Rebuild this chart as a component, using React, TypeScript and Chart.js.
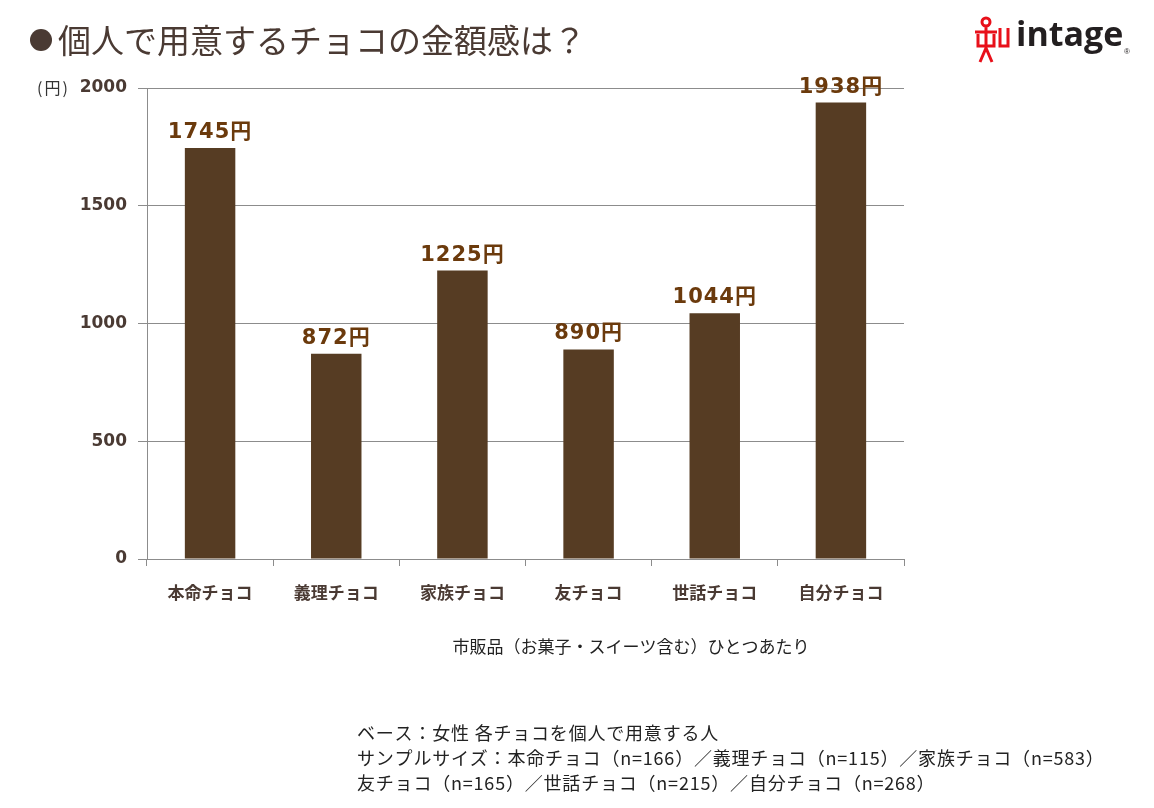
import React, { useEffect, useRef } from "react";
import { Chart, registerables } from "chart.js";

Chart.register(...registerables);

const categories = ["本命チョコ", "義理チョコ", "家族チョコ", "友チョコ", "世話チョコ", "自分チョコ"];
const amounts = [1745, 872, 1225, 890, 1044, 1938];
const yTicks = [0, 500, 1000, 1500, 2000];
const titleText = "個人で用意するチョコの金額感は？";
const unitText = "(円)";
const xTitleText = "市販品（お菓子・スイーツ含む）ひとつあたり";
const noteLines = [
  "ベース：女性 各チョコを個人で用意する人",
  "サンプルサイズ：本命チョコ（n=166）／義理チョコ（n=115）／家族チョコ（n=583）",
  "友チョコ（n=165）／世話チョコ（n=215）／自分チョコ（n=268）",
];

const FONT = "'Noto Sans CJK JP', 'Noto Sans', sans-serif";
const NUMFONT = "'DejaVu Sans', 'Noto Sans CJK JP', sans-serif";

const decorPlugin = {
  id: "decor",
  afterDatasetsDraw(chart: any) {
    const ctx = chart.ctx;
    const meta = chart.getDatasetMeta(0);
    ctx.save();
    ctx.font = `bold 21px ${NUMFONT}`;
    (ctx as any).letterSpacing = "1px";
    ctx.fillStyle = "#6B3A0C";
    ctx.textAlign = "center";
    ctx.textBaseline = "alphabetic";
    meta.data.forEach((el: any, i: number) => {
      ctx.fillText(amounts[i] + "円", el.x, el.y - 10);
    });
    ctx.restore();
  },
  afterDraw(chart: any) {
    const ctx = chart.ctx;
    ctx.save();
    // title
    ctx.fillStyle = "#4A3A33";
    ctx.beginPath();
    ctx.arc(41, 40, 11, 0, Math.PI * 2);
    ctx.fill();
    ctx.font = `33px ${FONT}`;
    ctx.textAlign = "left";
    ctx.textBaseline = "middle";
    ctx.fillText(titleText, 58, 40);
    // unit
    ctx.font = `16px ${FONT}`;
    (ctx as any).letterSpacing = "2px";
    ctx.fillStyle = "#333333";
    ctx.fillText(unitText, 37, 88);
    (ctx as any).letterSpacing = "0px";
    // x title
    ctx.font = `17px ${FONT}`;
    ctx.fillStyle = "#222222";
    ctx.textAlign = "center";
    ctx.fillText(xTitleText, 631, 647);
    // notes
    ctx.font = `18px ${FONT}`;
    (ctx as any).letterSpacing = "0.8px";
    ctx.textAlign = "left";
    noteLines.forEach((l, i) => ctx.fillText(l, 357, 733 + i * 25));
    (ctx as any).letterSpacing = "0px";
    // logo
    ctx.strokeStyle = "#E8101A";
    ctx.lineWidth = 3;
    ctx.beginPath();
    ctx.arc(986, 22, 4, 0, Math.PI * 2);
    ctx.moveTo(975, 32); ctx.lineTo(997, 32);
    ctx.moveTo(986, 26); ctx.lineTo(986, 48);
    ctx.moveTo(978, 34); ctx.lineTo(978, 46); ctx.lineTo(994, 46); ctx.lineTo(994, 34);
    ctx.moveTo(986, 48); ctx.lineTo(980, 62);
    ctx.moveTo(986, 48); ctx.lineTo(992, 62);
    ctx.moveTo(1000, 28); ctx.lineTo(1000, 46); ctx.lineTo(1008, 46); ctx.lineTo(1008, 28);
    ctx.stroke();
    ctx.font = `bold 34px 'Open Sans', 'DejaVu Sans', sans-serif`;
    ctx.fillStyle = "#231F20";
    ctx.textBaseline = "alphabetic";
    ctx.fillText("intage", 1016, 46);
    ctx.font = `8px sans-serif`;
    ctx.fillText("®", 1124, 54);
    ctx.restore();
  },
};

export default function App() {
  const ref = useRef<HTMLCanvasElement>(null);
  useEffect(() => {
    document.body.style.margin = "0";
    const chart = new Chart(ref.current!, {
      type: "bar",
      data: {
        labels: categories,
        datasets: [
          {
            data: amounts,
            backgroundColor: "#563C23",
            barPercentage: 0.4,
            categoryPercentage: 1,
          },
        ],
      },
      options: {
        animation: false,
        responsive: false,
        maintainAspectRatio: false,
        layout: { padding: { left: 77, right: 250, top: 88, bottom: 0 } },
        plugins: { legend: { display: false }, tooltip: { enabled: false } },
        scales: {
          x: {
            afterFit: (s: any) => { s.height = 249; },
            grid: {
              drawOnChartArea: false,
              drawTicks: true,
              offset: true,
              tickLength: 7,
              color: "#8C8C8C",
            },
            border: { color: "#8C8C8C" },
            ticks: {
              color: "#4A3A33",
              font: { family: FONT, size: 17, weight: "bold" },
              padding: 16,
              maxRotation: 0,
            },
          },
          y: {
            min: 0,
            max: 2000,
            afterFit: (s: any) => { s.width = 70; },
            afterBuildTicks: (s: any) => { s.ticks = yTicks.map((v) => ({ value: v })); },
            grid: { color: "#8C8C8C", tickLength: 9 },
            border: { color: "#8C8C8C" },
            ticks: {
              color: "#4A3A33",
              font: { family: NUMFONT, size: 17, weight: "bold" },
              padding: 11,
              callback: (v: any) => String(v),
            },
          },
        },
      },
      plugins: [decorPlugin],
    });
    return () => chart.destroy();
  }, []);
  return (
    <div style={{ position: "absolute", left: 0, top: 0, width: 1154, height: 808, background: "#fff" }}>
      <canvas ref={ref} width={1154} height={808} style={{ width: 1154, height: 808 }} />
    </div>
  );
}
